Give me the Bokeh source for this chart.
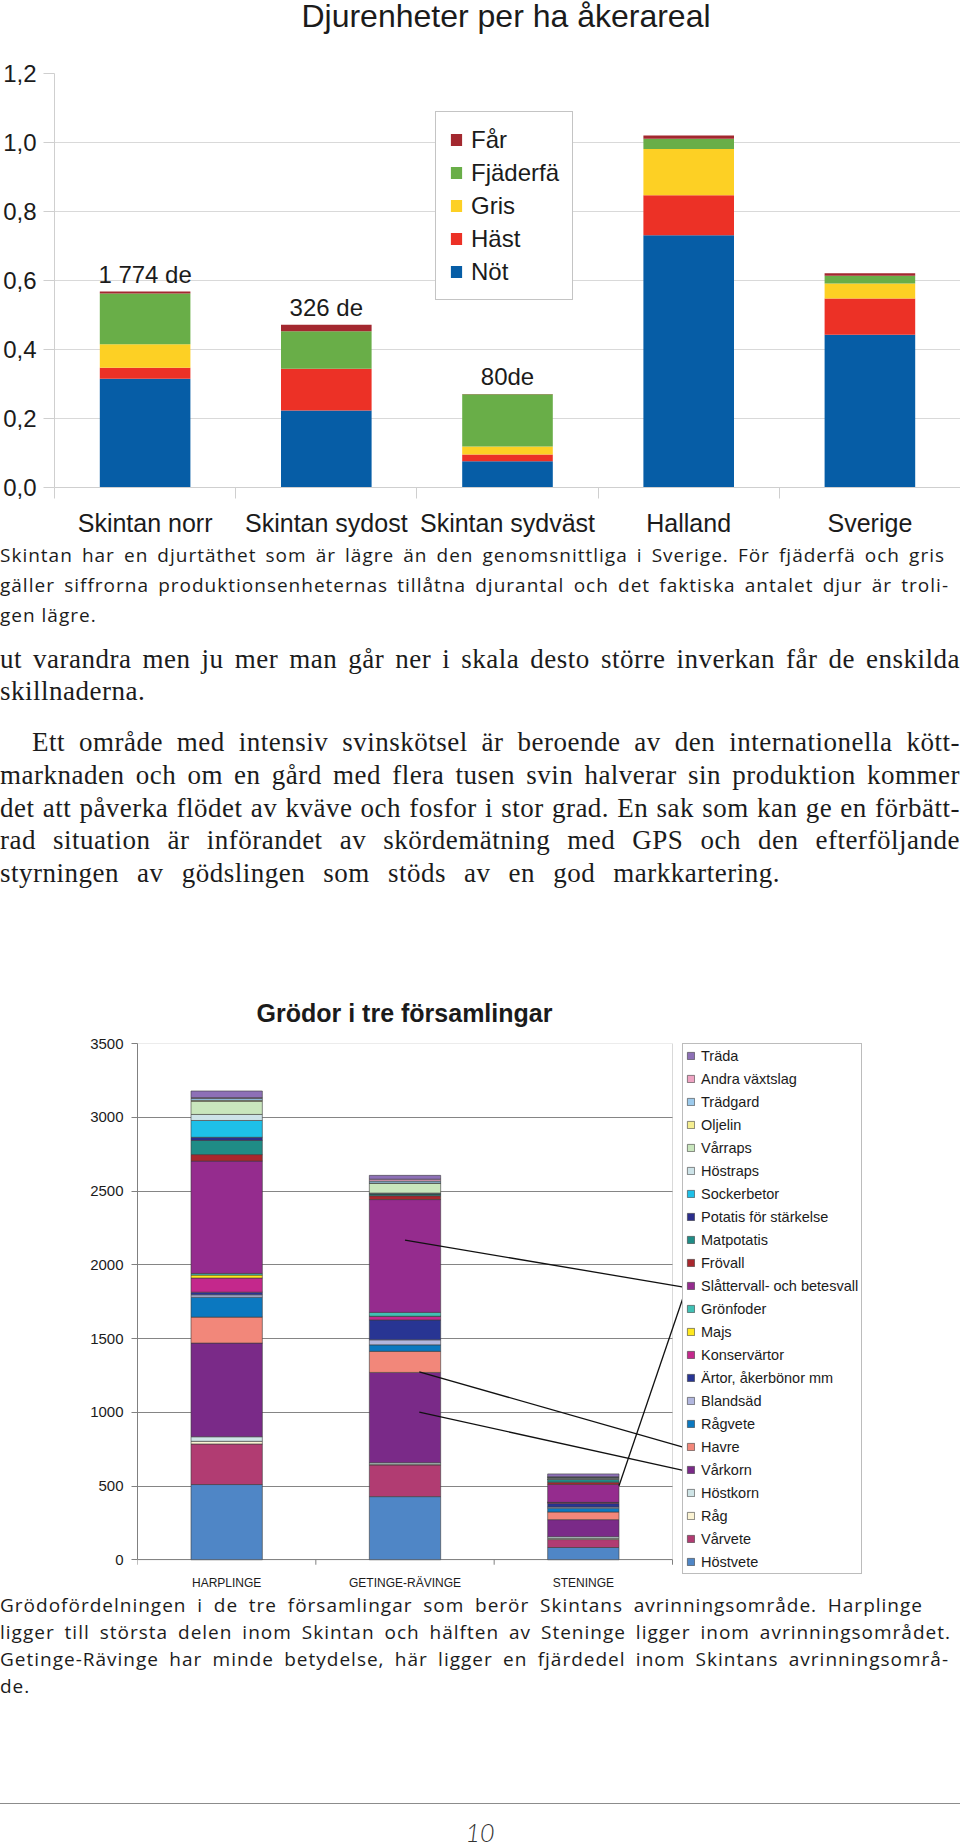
from bokeh.plotting import figure
from bokeh.models import (ColumnDataSource, Range1d, FixedTicker, CustomJSTickFormatter,
                          Legend, LegendItem, Div, Arrow, BoxAnnotation)
from bokeh.layouts import column
from bokeh.embed import file_html
from bokeh.resources import INLINE
from bokeh.core.properties import value

# ---------------- chart 1: Djurenheter per ha åkerareal ----------------
regions = ["Skintan norr", "Skintan sydost", "Skintan sydväst", "Halland", "Sverige"]
animals = ["Nöt", "Häst", "Gris", "Fjäderfä", "Får"]
not_values = [0.315, 0.223, 0.076, 0.731, 0.443]
hast_values = [0.032, 0.121, 0.020, 0.116, 0.105]
gris_values = [0.068, 0.000, 0.023, 0.134, 0.043]
fjaderfa_values = [0.147, 0.109, 0.151, 0.030, 0.023]
far_values = [0.006, 0.019, 0.001, 0.009, 0.007]
animal_colors = ["#065da6", "#ec3126", "#fdd024", "#69ae48", "#a3282f"]
notes = ["1 774 de", "326 de", "80de"]
y_ticks_1 = [0.0, 0.2, 0.4, 0.6, 0.8, 1.0, 1.2]

# ---------------- chart 2: Grödor i tre församlingar ----------------
parishes = ["HARPLINGE", "GETINGE-RÄVINGE", "STENINGE"]
crops = ["Höstvete", "Vårvete", "Råg", "Höstkorn", "Vårkorn", "Havre", "Rågvete",
         "Blandsäd", "Ärtor, åkerbönor mm", "Konservärtor", "Majs", "Grönfoder",
         "Slåttervall- och betesvall", "Frövall", "Matpotatis", "Potatis för stärkelse",
         "Sockerbetor", "Höstraps", "Vårraps", "Oljelin", "Trädgard", "Andra växtslag", "Träda"]
harplinge = [510, 275, 18, 31, 635, 176, 135, 16, 18, 96, 20, 11, 762, 44, 96, 21, 114, 41, 89, 7, 13, 5, 45]
getinge = [428, 215, 5, 10, 612, 143, 44, 34, 135, 25, 0, 26, 765, 26, 13, 0, 0, 5, 68, 0, 13, 13, 26]
steninge = [83, 54, 8, 11, 116, 52, 26, 8, 23, 8, 0, 0, 122, 15, 18, 0, 0, 8, 5, 0, 5, 0, 20]
crop_colors = ["#4f86c6", "#b13c72", "#fbf3d3", "#cfe4e6", "#7a2a88", "#f2877a", "#0b78c0",
               "#b1b6de", "#283593", "#c4288c", "#ffe81e", "#40c0b4", "#952c8e", "#a8272d",
               "#1f8c86", "#2b2e8c", "#1ec0e8", "#cde3e8", "#c9e6bd", "#f5ee90", "#9ccaec",
               "#eea3c2", "#8d70b6"]
y_ticks_2 = [0, 500, 1000, 1500, 2000, 2500, 3000, 3500]
# leader lines: (parish index, crop, position inside the segment, x shift in bar units)
leaders = [(1, "Slåttervall- och betesvall", 0.64, 0.0),
           (1, "Havre", 0.03, 0.08),
           (1, "Vårkorn", 0.56, 0.08),
           (2, "Slåttervall- och betesvall", 0.92, 0.2)]

# ---------------- page texts ----------------
para1 = ["Skintan har en djurtäthet som är lägre än den genomsnittliga i Sverige. För fjäderfä och gris",
         "gäller siffrorna produktionsenheternas tillåtna djurantal och det faktiska antalet djur är troli-",
         "gen lägre."]
para2 = ["ut varandra men ju mer man går ner i skala desto större inverkan får de enskilda",
         "skillnaderna."]
para3 = ["Ett område med intensiv svinskötsel är beroende av den internationella kött-",
         "marknaden och om en gård med flera tusen svin halverar sin produktion kommer",
         "det att påverka flödet av kväve och fosfor i stor grad. En sak som kan ge en förbätt-",
         "rad situation är införandet av skördemätning med GPS och den efterföljande",
         "styrningen av gödslingen som stöds av en god markkartering."]
caption = ["Grödofördelningen i de tre församlingar som berör Skintans avrinningsområde. Harplinge",
           "ligger till största delen inom Skintan och hälften av Steninge ligger inom avrinningsområdet.",
           "Getinge-Rävinge har minde betydelse, här ligger en fjärdedel inom Skintans avrinningsområ-",
           "de."]
page_number = "10"

SANS = "Liberation Sans"
BODY = "Open Sans"
SERIF = "Liberation Serif"
INK = "#1b1b1b"


def line_div(text, width=None, lh=30, indent=0):
    if width:
        style = (f"width:{width - indent}px;margin-left:{indent}px;height:{lh}px;line-height:{lh}px;"
                 "text-align:justify;text-align-last:justify;overflow:visible;")
    else:
        style = f"margin-left:{indent}px;height:{lh}px;line-height:{lh}px;white-space:nowrap;"
    return f'<div style="{style}">{text}</div>'


def text_block(lines, widths, font, size, lh, height, pad_top=0, indents=None, tracking=0.0):
    indents = indents or [0] * len(lines)
    inner = "".join(line_div(t, w, lh, ind) for t, w, ind in zip(lines, widths, indents))
    html = (f'<div style="font-family:\'{font}\';font-size:{size}px;letter-spacing:{tracking}px;'
            f'color:{INK};padding-top:{pad_top}px;width:960px;">{inner}</div>')
    return Div(text=html, width=960, height=height, margin=0)


# ---------------- figure 1 ----------------
series1 = [not_values, hast_values, gris_values, fjaderfa_values, far_values]
x1 = [i + 0.5 for i in range(len(regions))]
data1 = {"x": x1}
for name, vals in zip(animals, series1):
    data1[name] = vals
src1 = ColumnDataSource(data1)

p1 = figure(width=960, height=485, x_range=Range1d(0, len(regions)), y_range=Range1d(0, 1.2),
            output_backend="svg", toolbar_location=None, min_border_left=52, min_border_right=0,
            min_border_top=18, min_border_bottom=53, outline_line_color=None, margin=0)
p1.frame_align = False
rs1 = p1.vbar_stack(animals, x="x", width=0.5, fill_color=animal_colors, line_color=None, source=src1)

totals1 = [sum(v) for v in zip(*series1)]
note_src = ColumnDataSource(dict(x=x1[:len(notes)], y=[t + 0.05 for t in totals1[:len(notes)]], text=notes))
p1.text(x="x", y="y", text="text", source=note_src, text_font=value(SANS), text_font_size="24px",
        text_align="center", text_baseline="middle", text_color=INK)

xa = p1.xaxis[0]
xa.ticker = FixedTicker(ticks=x1, minor_ticks=list(range(len(regions) + 1)))
xa.formatter = CustomJSTickFormatter(args=dict(labels=regions), code="return labels[Math.floor(tick)];")
xa.major_tick_out = 0
xa.major_tick_in = 0
xa.minor_tick_out = 11
xa.minor_tick_in = 0
xa.minor_tick_line_color = "#cfcfcf"
xa.axis_line_color = "#cfcfcf"
xa.major_label_text_font = SANS
xa.major_label_text_font_size = "25px"
xa.major_label_text_color = INK
xa.major_label_standoff = 10

ya = p1.yaxis[0]
t1 = FixedTicker(ticks=y_ticks_1, minor_ticks=[])
ya.ticker = t1
ya.formatter = CustomJSTickFormatter(code="return tick.toFixed(1).replace('.', ',');")
ya.major_tick_out = 11
ya.major_tick_in = 0
ya.minor_tick_line_color = None
ya.major_tick_line_color = "#cfcfcf"
ya.axis_line_color = "#cfcfcf"
ya.major_label_text_font = SANS
ya.major_label_text_font_size = "24px"
ya.major_label_text_color = INK
ya.major_label_standoff = 7
p1.xgrid.visible = False
p1.ygrid.ticker = t1
p1.ygrid.grid_line_color = "#d9d9d9"

leg1 = Legend(items=[LegendItem(label=n, renderers=[r]) for n, r in reversed(list(zip(animals, rs1)))],
              location=(381, 187), margin=0, padding=13, spacing=4, label_height=29,
              glyph_width=14, glyph_height=15, label_standoff=8,
              label_text_font=SANS, label_text_font_size="24px", label_text_color=INK,
              border_line_color="#8a8a8a", border_line_width=1, background_fill_color="white",
              background_fill_alpha=1.0)
p1.add_layout(leg1)

# ---------------- figure 2 ----------------
parish_values = [harplinge, getinge, steninge]
x2 = [i + 0.5 for i in range(len(parishes))]
data2 = {"x": x2}
for k, crop in enumerate(crops):
    data2[crop] = [vals[k] for vals in parish_values]
src2 = ColumnDataSource(data2)

Y2_MAX = 3500
Y2_LOW = -100                    # room under the axis so the legend is not clipped
CAT_PX = 535 / 3                 # width of one parish slot in px
F2_LEFT, F2_TOP, F2_BOTTOM = 137, 10, 17
F2_FRAME_W = 960 - F2_LEFT
F2_FRAME_H = 559 - F2_TOP - F2_BOTTOM
x_hi = F2_FRAME_W / CAT_PX
px_per_y = F2_FRAME_H / (Y2_MAX - Y2_LOW)

p2 = figure(width=960, height=559, x_range=Range1d(0, x_hi), y_range=Range1d(Y2_LOW, Y2_MAX),
            output_backend="svg", toolbar_location=None, min_border_left=F2_LEFT, min_border_right=0,
            min_border_top=F2_TOP, min_border_bottom=F2_BOTTOM, outline_line_color=None, margin=0)
p2.frame_align = False
p2.xgrid.visible = False
t2 = FixedTicker(ticks=y_ticks_2, minor_ticks=[])
p2.ygrid.ticker = t2
p2.ygrid.grid_line_color = "#858585"
# white area right of the plot area (hides grid lines there)
p2.add_layout(BoxAnnotation(left=len(parishes), fill_color="white", fill_alpha=1.0,
                            line_color=None, level="underlay"))

rs2 = p2.vbar_stack(crops, x="x", width=0.4, fill_color=crop_colors, line_color="#3c3c3c",
                    line_width=0.6, source=src2)
# plot-area border (its lower edge is the category axis line)
p2.add_layout(BoxAnnotation(left=0, right=len(parishes), bottom=0, top=Y2_MAX, fill_alpha=0,
                            line_color="#808080", line_width=1))
# category separator ticks below the axis line
bounds2 = list(range(len(parishes) + 1))
p2.segment(x0=bounds2, y0=[0] * len(bounds2), x1=bounds2, y1=[-5 / px_per_y] * len(bounds2),
           line_color="#808080", line_width=1)

xb = p2.xaxis[0]
xb.ticker = FixedTicker(ticks=x2, minor_ticks=[])
xb.formatter = CustomJSTickFormatter(args=dict(labels=parishes), code="return labels[Math.floor(tick)];")
xb.major_tick_line_color = None
xb.minor_tick_line_color = None
xb.major_tick_out = 0
xb.major_tick_in = 0
xb.axis_line_color = None
xb.major_label_text_font = SANS
xb.major_label_text_font_size = "12px"
xb.major_label_text_color = INK
xb.major_label_standoff = 1

yb = p2.yaxis[0]
yb.bounds = (0, Y2_MAX)
yb.ticker = t2
yb.major_tick_out = 6
yb.major_tick_in = 0
yb.minor_tick_line_color = None
yb.major_tick_line_color = "#808080"
yb.axis_line_color = "#808080"
yb.major_label_text_font = SANS
yb.major_label_text_font_size = "15px"
yb.major_label_text_color = INK
yb.major_label_standoff = 8

L2_X, L2_Y, L2_PAD, L2_LH, L2_SP = 545, 0, 3, 17, 6
L2_ROW = 17                      # rendered row height of the labels
leg2 = Legend(items=[LegendItem(label=c, renderers=[r]) for c, r in reversed(list(zip(crops, rs2)))],
              location=(L2_X, L2_Y), margin=0, padding=L2_PAD, spacing=L2_SP, label_height=L2_LH,
              glyph_width=9, glyph_height=9, label_standoff=6,
              label_text_font=SANS, label_text_font_size="14.5px", label_text_color=INK,
              border_line_color="#7a7a7a", border_line_width=1, background_fill_color="white",
              background_fill_alpha=1.0)
p2.add_layout(leg2)

# leader lines from bar segments to legend markers
n = len(crops)
leg_h = 2 * L2_PAD + n * L2_ROW + (n - 1) * L2_SP
x_end = (L2_X + L2_PAD + 1) / CAT_PX
for pi, crop, frac, dx in leaders:
    k = crops.index(crop)
    vals = parish_values[pi]
    ys = sum(vals[:k]) + frac * vals[k]
    xs = pi + 0.5 + dx
    row = n - 1 - k
    ye = Y2_LOW + (L2_Y + leg_h - L2_PAD - row * (L2_ROW + L2_SP) - L2_ROW / 2) / px_per_y
    p2.add_layout(Arrow(end=None, x_start=xs, y_start=ys, x_end=x_end, y_end=ye,
                        line_color="#111111", line_width=1.3))

# ---------------- page assembly ----------------
title1 = Div(text=(f'<div style="margin-left:52px;width:908px;text-align:center;font-family:\'{SANS}\';'
                   f'font-size:32px;line-height:32px;color:{INK};">Djurenheter per ha åkerareal</div>'),
             width=960, height=55, margin=0)
d_para1 = text_block(para1, [945, 949, None], BODY, 19, 30, 90, tracking=1.0)
d_para2 = text_block(para2, [960, None], SERIF, 27, 32, 77, pad_top=13, tracking=0.5)
d_para3 = text_block(para3, [960, 960, 960, 960, 780], SERIF, 27, 32.75, 213, pad_top=19,
                     indents=[32, 0, 0, 0, 0], tracking=0.5)
title2 = Div(text=(f'<div style="padding-top:78px;margin-left:137px;width:535px;text-align:center;'
                   f'font-family:\'{SANS}\';font-weight:bold;font-size:25px;line-height:30px;color:{INK};">'
                   'Grödor i tre församlingar</div>'),
             width=960, height=113, margin=0)
d_caption = text_block(caption, [923, 951, 949, None], BODY, 19, 27, 108, tracking=1.0)
footer = Div(text=('<div style="height:103px"></div>'
                   '<div style="width:960px;border-top:1.5px solid #8c8c8c;"></div>'
                   f'<div style="margin-top:14px;padding-left:34px;width:926px;text-align:center;'
                   f'font-family:\'Lato\';font-style:italic;font-weight:300;font-size:25px;'
                   f'line-height:28px;color:#333;">{page_number}</div>'),
             width=960, height=145, margin=0)

page = column(title1, p1, d_para1, d_para2, d_para3, title2, p2, d_caption, footer,
              spacing=0, margin=0)

with open("out.html", "w") as f:
    f.write(file_html(page, INLINE))
